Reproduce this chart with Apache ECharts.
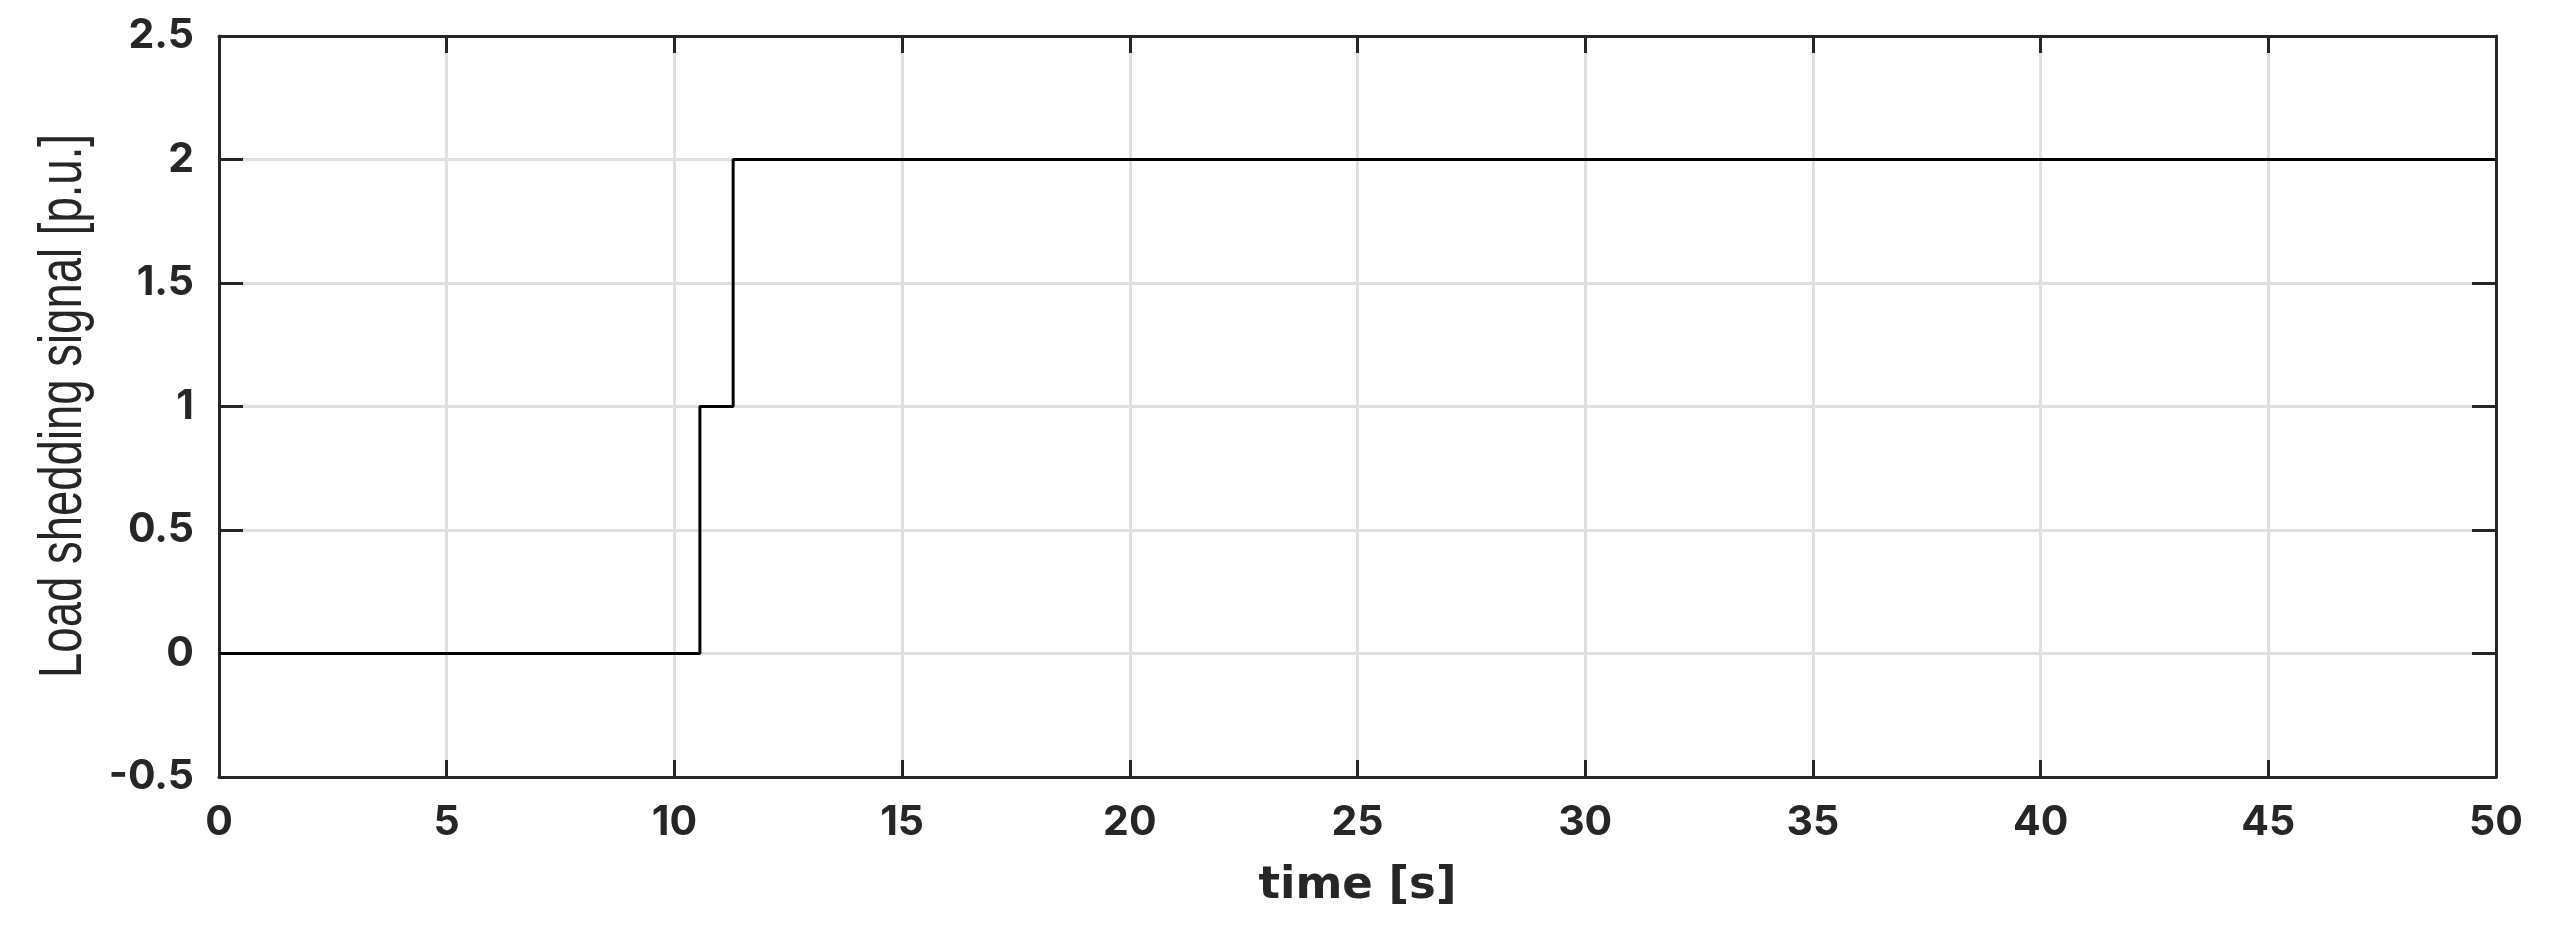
<!DOCTYPE html>
<html>
<head>
<meta charset="utf-8">
<script src="https://cdn.jsdelivr.net/npm/echarts@6/dist/echarts.min.js"></script>
<style>
html,body{margin:0;padding:0;background:#fff;}
#chart{width:2551px;height:932px;}
</style>
</head>
<body>
<div id="chart"></div>
<script>
// Data
const timeSec = [0, 10.56, 11.29, 50];
const signalPu = [0, 1, 2, 2];
const xTitle = 'time [s]';
const yTitle = 'Load shedding signal [p.u.]';
const xRange = [0, 50, 5];
const yRange = [-0.5, 2.5, 0.5];

const axisColor = '#262626';
const gridColor = '#dfdfdf';
const tickFont = 'Inter';

const chart = echarts.init(document.getElementById('chart'), null, {renderer: 'canvas'});

const seriesData = timeSec.map((t, i) => [t, signalPu[i]]);

const baseX = {
  type: 'value', min: xRange[0], max: xRange[1], interval: xRange[2],
  axisLine: {show: true, onZero: false, lineStyle: {color: axisColor, width: 3}},
  axisTick: {show: true, inside: true, length: 17, lineStyle: {color: axisColor, width: 3}}
};
const baseY = {
  type: 'value', min: yRange[0], max: yRange[1], interval: yRange[2],
  axisLine: {show: true, onZero: false, lineStyle: {color: axisColor, width: 3}},
  axisTick: {show: true, inside: true, length: 24, lineStyle: {color: axisColor, width: 3}}
};

chart.setOption({
  animation: false,
  backgroundColor: '#ffffff',
  grid: {left: 219, right: 55, top: 36, bottom: 155, containLabel: false},
  xAxis: [
    Object.assign({}, baseX, {
      position: 'bottom',
      name: xTitle, nameLocation: 'middle', nameGap: 87,
      nameTextStyle: {color: axisColor, fontFamily: 'DejaVu Sans', fontWeight: 'bold', fontSize: 45},
      axisLabel: {show: true, margin: 25, color: axisColor, fontFamily: tickFont, fontWeight: 'bold', fontSize: 41},
      splitLine: {show: true, lineStyle: {color: gridColor, width: 3}}
    }),
    Object.assign({}, baseX, {
      position: 'top',
      axisLabel: {show: false},
      splitLine: {show: false}
    })
  ],
  yAxis: [
    Object.assign({}, baseY, {
      position: 'left',
      axisLabel: {show: true, margin: 25, color: axisColor, fontFamily: tickFont, fontWeight: 'bold', fontSize: 41},
      splitLine: {show: true, lineStyle: {color: gridColor, width: 3}}
    }),
    Object.assign({}, baseY, {
      position: 'right',
      axisLabel: {show: false},
      splitLine: {show: false}
    })
  ],
  graphic: [{
    type: 'text',
    x: 64, y: 406,
    rotation: Math.PI / 2,
    scaleY: 1.35,
    z: 10,
    style: {
      text: yTitle,
      fill: axisColor,
      fontFamily: 'Liberation Sans',
      fontSize: 45.5,
      textAlign: 'center',
      textVerticalAlign: 'middle'
    }
  }],
  series: [{
    type: 'line',
    xAxisIndex: 0, yAxisIndex: 0,
    data: seriesData,
    step: 'end',
    showSymbol: false,
    symbol: 'none',
    lineStyle: {color: '#000000', width: 3},
    z: 5
  }]
});
</script>
</body>
</html>
